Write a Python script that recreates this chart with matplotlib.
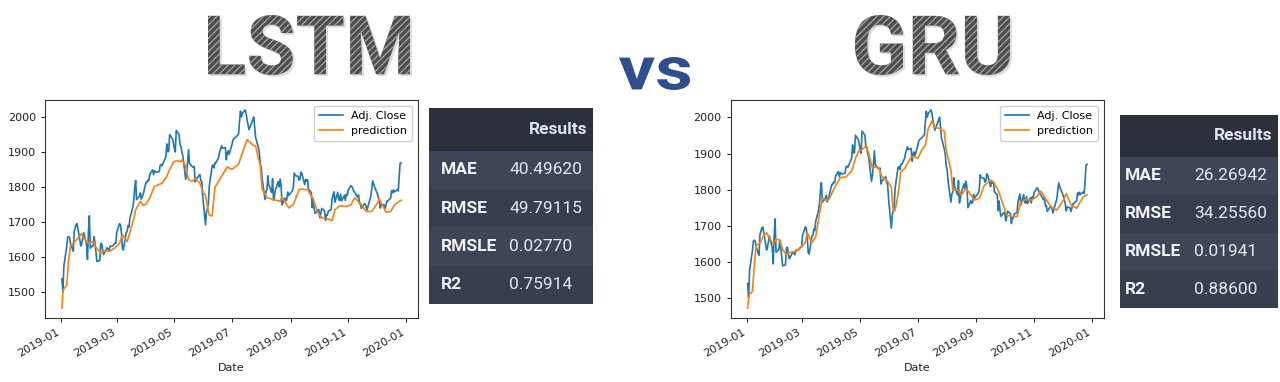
import numpy as np
import pandas as pd
import matplotlib
matplotlib.use('Agg')
import matplotlib.pyplot as plt
import matplotlib.dates as mdates
from matplotlib.textpath import TextPath
from matplotlib.patches import PathPatch, Rectangle
from matplotlib.font_manager import FontProperties
from matplotlib.transforms import Affine2D

# ---------------- data ----------------
holidays_2019 = ['2019-01-21', '2019-02-18', '2019-04-19', '2019-05-27',
                 '2019-07-04', '2019-09-02', '2019-11-28', '2019-12-25']

adj_close = [
    # Jan
    1539.13, 1500.28, 1575.39, 1629.51, 1656.58, 1659.42, 1656.22, 1640.56, 1617.21, 1674.56,
    1683.78, 1693.22, 1696.20, 1632.17, 1640.02, 1654.93, 1670.57, 1637.89, 1593.88, 1670.43, 1718.73,
    # Feb
    1626.23, 1633.31, 1658.81, 1640.26, 1614.37, 1588.22, 1591.00, 1638.01, 1640.00, 1622.65,
    1607.95, 1627.58, 1622.10, 1619.44, 1631.56, 1633.00, 1636.40, 1641.09, 1639.83,
    # Mar
    1671.73, 1696.17, 1692.43, 1668.95, 1625.95, 1620.80, 1670.62, 1673.10, 1690.81, 1686.22,
    1712.36, 1742.15, 1761.85, 1797.27, 1819.26, 1764.77, 1774.26, 1783.76, 1765.70, 1773.42, 1780.75,
    # Apr
    1814.19, 1813.98, 1820.70, 1818.86, 1837.28, 1849.86, 1835.84, 1847.33, 1844.07, 1843.06,
    1844.87, 1863.04, 1864.82, 1861.69, 1887.31, 1923.77, 1901.75, 1902.25, 1950.63, 1938.43, 1926.52,
    # May
    1911.52, 1900.82, 1962.46, 1950.55, 1921.00, 1917.77, 1899.87, 1889.98, 1822.68, 1840.12,
    1871.15, 1907.57, 1869.00, 1858.97, 1857.52, 1859.68, 1815.48, 1823.28, 1836.43, 1819.19,
    1816.32, 1775.07,
    # Jun
    1692.69, 1729.56, 1738.50, 1754.36, 1804.03, 1860.63, 1863.70, 1855.32, 1870.30, 1869.67,
    1886.03, 1901.37, 1908.79, 1918.19, 1911.30, 1913.90, 1878.27, 1897.83, 1904.28, 1893.63,
    # Jul
    1922.19, 1934.31, 1939.00, 1942.91, 1952.32, 1988.30, 2017.41, 2001.07, 2011.00, 2020.99,
    2009.90, 1992.03, 1977.90, 1964.52, 1985.63, 1994.49, 2000.81, 1973.82, 1943.05, 1912.45,
    1898.53, 1866.78,
    # Aug
    1855.32, 1823.24, 1765.13, 1787.83, 1793.40, 1832.89, 1807.58, 1784.92, 1824.34, 1762.96,
    1776.12, 1792.57, 1816.12, 1801.38, 1823.54, 1804.66, 1749.62, 1768.87, 1761.83, 1764.25,
    1786.40, 1776.29,
    # Sep
    1789.84, 1800.62, 1840.72, 1833.51, 1831.35, 1820.55, 1822.99, 1843.55, 1839.34, 1807.84,
    1822.55, 1817.46, 1821.50, 1794.16, 1785.30, 1741.61, 1768.33, 1739.84, 1725.45, 1735.91,
    # Oct
    1735.65, 1713.23, 1724.42, 1739.65, 1732.66, 1705.51, 1721.99, 1720.26, 1731.92, 1736.43,
    1767.38, 1777.43, 1787.48, 1757.51, 1785.66, 1765.73, 1762.17, 1780.78, 1761.33, 1777.08,
    1762.71, 1779.99, 1776.66,
    # Nov
    1791.44, 1804.66, 1801.71, 1795.77, 1788.20, 1785.88, 1771.65, 1778.00, 1753.11, 1754.60,
    1739.49, 1752.53, 1752.79, 1745.53, 1734.71, 1745.72, 1773.84, 1796.94, 1818.51, 1800.80,
    # Dec
    1781.60, 1769.96, 1760.69, 1740.48, 1751.60, 1749.51, 1739.21, 1748.72, 1760.33, 1760.94,
    1769.21, 1790.66, 1784.03, 1792.28, 1786.50, 1793.00, 1789.21, 1868.77, 1869.80,
]

lstm_pred_dates = [
    '2019-01-02', '2019-01-03', '2019-01-04', '2019-01-07', '2019-01-09', '2019-01-11', '2019-01-15',
    '2019-01-18', '2019-01-23', '2019-01-25', '2019-01-29', '2019-01-31', '2019-02-04', '2019-02-07',
    '2019-02-12', '2019-02-15', '2019-02-22', '2019-02-27', '2019-03-04', '2019-03-07', '2019-03-12',
    '2019-03-15', '2019-03-19', '2019-03-21', '2019-03-26', '2019-03-29', '2019-04-01', '2019-04-05',
    '2019-04-10', '2019-04-15', '2019-04-18', '2019-04-23', '2019-04-26', '2019-04-30', '2019-05-03',
    '2019-05-07', '2019-05-09', '2019-05-13', '2019-05-16', '2019-05-20', '2019-05-23', '2019-05-28',
    '2019-05-31', '2019-06-03', '2019-06-05', '2019-06-07', '2019-06-10', '2019-06-13', '2019-06-19',
    '2019-06-26', '2019-07-01', '2019-07-08', '2019-07-12', '2019-07-17', '2019-07-23', '2019-07-26',
    '2019-07-31', '2019-08-02', '2019-08-07', '2019-08-14', '2019-08-21', '2019-08-23', '2019-08-30',
    '2019-09-04', '2019-09-10', '2019-09-12', '2019-09-19', '2019-09-25', '2019-09-30', '2019-10-04',
    '2019-10-10', '2019-10-15', '2019-10-18', '2019-10-23', '2019-10-30', '2019-11-04', '2019-11-08',
    '2019-11-15', '2019-11-20', '2019-11-26', '2019-12-02', '2019-12-04', '2019-12-11', '2019-12-16',
    '2019-12-20', '2019-12-27',
]
lstm_pred = [
    1455, 1503, 1510, 1520, 1590, 1632, 1643,
    1652, 1668, 1655, 1642, 1640, 1646, 1628,
    1612, 1618, 1618, 1627, 1640, 1665, 1645,
    1672, 1710, 1736, 1760, 1748, 1752, 1770,
    1803, 1808, 1812, 1831, 1851, 1872, 1876,
    1873, 1878, 1860, 1822, 1817, 1825, 1812,
    1789, 1776, 1745, 1720, 1718, 1800, 1827,
    1858, 1851, 1866, 1898, 1936, 1921, 1917,
    1860, 1795, 1770, 1765, 1760, 1773, 1741,
    1751, 1793, 1795, 1793, 1765, 1727, 1713,
    1710, 1705, 1736, 1747, 1745, 1750, 1770,
    1750, 1731, 1731, 1755, 1767, 1729, 1731,
    1750, 1763,
]

gru_pred_dates = [
    '2019-01-02', '2019-01-03', '2019-01-04', '2019-01-07', '2019-01-09', '2019-01-11', '2019-01-15',
    '2019-01-18', '2019-01-22', '2019-01-25', '2019-01-29', '2019-02-01', '2019-02-05', '2019-02-08',
    '2019-02-12', '2019-02-15', '2019-02-22', '2019-02-28', '2019-03-04', '2019-03-06', '2019-03-11',
    '2019-03-15', '2019-03-19', '2019-03-22', '2019-03-27', '2019-03-29', '2019-04-04', '2019-04-10',
    '2019-04-16', '2019-04-22', '2019-04-26', '2019-04-30', '2019-05-02', '2019-05-07', '2019-05-10',
    '2019-05-14', '2019-05-17', '2019-05-21', '2019-05-24', '2019-05-29', '2019-06-03', '2019-06-05',
    '2019-06-07', '2019-06-10', '2019-06-13', '2019-06-17', '2019-06-24', '2019-06-27', '2019-07-01',
    '2019-07-05', '2019-07-09', '2019-07-12', '2019-07-16', '2019-07-19', '2019-07-24', '2019-07-29',
    '2019-07-31', '2019-08-05', '2019-08-07', '2019-08-12', '2019-08-16', '2019-08-21', '2019-08-26',
    '2019-08-30', '2019-09-04', '2019-09-09', '2019-09-16', '2019-09-19', '2019-09-24', '2019-09-30',
    '2019-10-03', '2019-10-09', '2019-10-14', '2019-10-18', '2019-10-23', '2019-10-29', '2019-11-04',
    '2019-11-08', '2019-11-14', '2019-11-19', '2019-11-25', '2019-12-02', '2019-12-05', '2019-12-10',
    '2019-12-16', '2019-12-19', '2019-12-23', '2019-12-27',
]
gru_pred = [
    1471, 1499, 1510, 1517, 1590, 1646, 1651,
    1669, 1680, 1665, 1649, 1662, 1660, 1633,
    1619, 1625, 1628, 1642, 1653, 1679, 1653,
    1669, 1734, 1775, 1771, 1773, 1806, 1833,
    1835, 1852, 1886, 1909, 1909, 1920, 1900,
    1858, 1863, 1858, 1835, 1826, 1807, 1738,
    1743, 1785, 1849, 1858, 1890, 1891, 1886,
    1909, 1923, 1969, 1990, 1973, 1969, 1962,
    1909, 1854, 1798, 1800, 1785, 1803, 1785,
    1771, 1775, 1810, 1826, 1821, 1798, 1752,
    1729, 1725, 1725, 1766, 1772, 1771, 1780,
    1796, 1771, 1752, 1743, 1771, 1789, 1757,
    1748, 1762, 1780, 1785,
]

metric_names = ['MAE', 'RMSE', 'RMSLE', 'R2']
lstm_metrics = [40.49620, 49.79115, 0.02770, 0.75914]
gru_metrics = [26.26942, 34.25560, 0.01941, 0.88600]
titles = ['LSTM', 'vs', 'GRU']

# ---------------- figure ----------------
W, H = 1280, 382
fig = plt.figure(figsize=(W / 100, H / 100), dpi=100)
fig.patch.set_facecolor('white')

# overlay axes in pixel coordinates (image-like, y downwards)
ov = fig.add_axes([0, 0, 1, 1], zorder=0)
ov.set_xlim(0, W)
ov.set_ylim(H, 0)
ov.set_axis_off()
ov.patch.set_alpha(0)

trade_dates = pd.bdate_range('2019-01-02', '2019-12-27', freq='C', holidays=holidays_2019)

TICK_FS = 8


def draw_chart(rect, pred_dates, pred):
    ax = fig.add_axes(rect, zorder=2)
    ax.plot(trade_dates, adj_close, color='#1f77b4', lw=1.2, label='Adj. Close')
    ax.plot(pd.to_datetime(pred_dates), pred, color='#ff7f0e', lw=1.2, label='prediction')
    ax.xaxis.set_major_locator(mdates.MonthLocator(bymonth=[1, 3, 5, 7, 9, 11]))
    ax.xaxis.set_major_formatter(mdates.DateFormatter('%Y-%m'))
    ax.set_yticks([1500, 1600, 1700, 1800, 1900, 2000])
    ax.tick_params(labelsize=TICK_FS, length=3, width=0.7, colors='#222222')
    for lab in ax.get_xticklabels():
        lab.set_rotation(30)
        lab.set_ha('right')
    for sp in ax.spines.values():
        sp.set_linewidth(0.8)
        sp.set_color('#333333')
    ax.set_xlabel('Date', fontsize=TICK_FS, color='#222222', labelpad=3)
    ax.legend(loc='upper right', fontsize=TICK_FS, handlelength=2.1,
              borderpad=0.45, labelspacing=0.45, framealpha=0.9)
    return ax


draw_chart([45 / W, 1 - 318 / H, 373 / W, 218 / H], lstm_pred_dates, lstm_pred)
draw_chart([730.7 / W, 1 - 318 / H, 373.3 / W, 218 / H], gru_pred_dates, gru_pred)


# ---------------- big titles ----------------
def fitted_path(text, box, weight='bold', family='Roboto'):
    p = TextPath((0, 0), text, size=100, prop=FontProperties(family=family, weight=weight))
    e = p.get_extents()
    bx0, by0, bx1, by1 = box
    sx = (bx1 - bx0) / e.width
    sy = (by1 - by0) / e.height
    tr = Affine2D().translate(-e.x0, -e.y1).scale(sx, -sy).translate(bx0, by0)
    return tr.transform_path(p)


for txt, box in [(titles[0], (208, 15, 410, 75)), (titles[2], (855, 15, 1010, 75))]:
    shadow = fitted_path(txt, (box[0] + 2, box[1] + 2, box[2] + 2, box[3] + 2))
    ov.add_patch(PathPatch(shadow, facecolor='#d4d4d4', edgecolor='none', lw=0, alpha=0.8))
    path = fitted_path(txt, box)
    ov.add_patch(PathPatch(path, facecolor='#4d4d4d', edgecolor='#a0a0a0', lw=0, hatch='/////'))

vs_path = fitted_path(titles[1], (619, 57, 690, 90))
ov.add_patch(PathPatch(vs_path, facecolor='#2d4f8e', edgecolor='none', lw=0))

TABLE_FONT = ['Roboto', 'DejaVu Sans']


# ---------------- result tables ----------------
def draw_table(x0, x1, y0, header_bottom, row_h, values, label_x, value_x, header_right):
    header_col = '#2b303b'
    row_cols = ['#3d4556', '#373e4e']
    ov.add_patch(Rectangle((x0, y0), x1 - x0, header_bottom - y0, facecolor=header_col,
                           edgecolor='none'))
    ov.text(header_right, (y0 + header_bottom) / 2, 'Results', ha='right', va='center',
            fontsize=12.5, fontweight='bold', color='#dfe6f0', family=TABLE_FONT)
    for i, (name, val) in enumerate(zip(metric_names, values)):
        top = header_bottom + i * row_h
        ov.add_patch(Rectangle((x0, top), x1 - x0, row_h, facecolor=row_cols[i % 2],
                               edgecolor='none'))
        cy = top + row_h / 2
        ov.text(label_x, cy, name, ha='left', va='center', fontsize=12.5, fontweight='bold',
                color='#f2f4f7', family=TABLE_FONT)
        ov.text(value_x, cy, f'{val:.5f}', ha='left', va='center', fontsize=12.5,
                color='#e4e8ee', family=TABLE_FONT)


draw_table(429, 593, 108, 150.7, 38.3, lstm_metrics, 441, 509, 587)
draw_table(1120, 1278, 115, 156.7, 37.9, gru_metrics, 1125, 1194, 1272)

fig.savefig('out.png', dpi=100, facecolor='white')
